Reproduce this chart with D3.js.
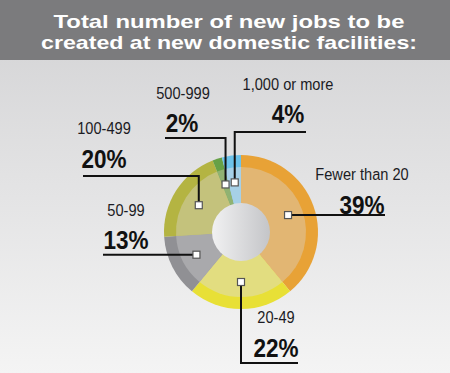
<!DOCTYPE html>
<html>
<head>
<meta charset="utf-8">
<script src="https://cdn.jsdelivr.net/npm/d3@7"></script>
<style>
  body { margin: 0; }
  svg { display: block; }
</style>
</head>
<body>
<div id="chart"></div>
<script>
const categories = ['Fewer than 20', '20-49', '50-99', '100-499', '500-999', '1,000 or more']
const shares = [39, 22, 13, 20, 2, 4]
const titleLines = ['Total number of new jobs to be', 'created at new domestic facilities:']

// outer band colour, inner (lighter) colour
const outerColors = ['#e8a236', '#e8e036', '#909094', '#b4b442', '#67a146', '#6cc2ea']
const innerColors = ['#e2b673', '#e2dd80', '#a9a9ac', '#c4c27c', '#90b272', '#a6d0e7']

// where each leader line ends and where its two texts sit
// bend: 'h' = straight horizontal, 'v' = vertical then horizontal
const labelLayout = [
  { bend: 'h', endX: 385, nameX: 362, nameY: 180, pctX: 362, pctY: 214 },
  { bend: 'v', elbowY: 363, endX: 298, nameX: 276, nameY: 323, pctX: 276, pctY: 357 },
  { bend: 'h', endX: 103, nameX: 126, nameY: 216, pctX: 126, pctY: 249 },
  { bend: 'v', elbowY: 176, endX: 83, nameX: 104, nameY: 134, pctX: 104, pctY: 168 },
  { bend: 'v', elbowY: 138, endX: 165, nameX: 183, nameY: 99, pctX: 182, pctY: 132 },
  { bend: 'v', elbowY: 132, endX: 306, nameX: 288, nameY: 90, pctX: 288, pctY: 123 }
]
const titleWidths = [351, 376]

const width = 450
const height = 373
const cx = 241
const cy = 232

const svg = d3
  .select('#chart')
  .append('svg')
  .attr('width', width)
  .attr('height', height)

const defs = svg.append('defs')

const bg = defs.append('linearGradient')
  .attr('id', 'bg')
  .attr('x1', 0).attr('y1', 0).attr('x2', 0).attr('y2', 1)
bg.append('stop').attr('offset', '0%').attr('stop-color', '#d2d2d4')
bg.append('stop').attr('offset', '100%').attr('stop-color', '#f4f4f4')

const hole = defs.append('linearGradient')
  .attr('id', 'hole')
  .attr('x1', 0).attr('y1', 0).attr('x2', 1).attr('y2', 0)
hole.append('stop').attr('offset', '0%').attr('stop-color', '#f1f1f2')
hole.append('stop').attr('offset', '100%').attr('stop-color', '#c4c5c8')

svg.append('rect')
  .attr('width', width)
  .attr('height', height)
  .attr('fill', 'url(#bg)')

// header band
svg.append('rect')
  .attr('width', width)
  .attr('height', 60)
  .attr('fill', '#7b7b7d')

svg.selectAll('.title')
  .data(titleLines)
  .enter()
  .append('text')
  .attr('class', 'title')
  .attr('x', 229)
  .attr('y', (d, i) => 28 + i * 21)
  .attr('text-anchor', 'middle')
  .attr('textLength', (d, i) => titleWidths[i])
  .attr('lengthAdjust', 'spacingAndGlyphs')
  .attr('fill', '#ffffff')
  .style('font-family', '"Liberation Sans", Arial, sans-serif')
  .style('font-weight', 'bold')
  .style('font-size', '18.5px')
  .text(d => d)

const data = categories.map((c, i) => ({ name: c, value: shares[i], i: i }))

const pie = d3.pie().sort(null).value(d => d.value)
const arcs = pie(data)

const outerArc = d3.arc().innerRadius(0).outerRadius(77)
const innerArc = d3.arc().innerRadius(0).outerRadius(65)
const markerArc = d3.arc().innerRadius(29).outerRadius(71)

const g = svg.append('g')
  .attr('transform', 'translate(' + cx + ',' + cy + ')')

g.selectAll('.outer')
  .data(arcs)
  .enter()
  .append('path')
  .attr('class', 'outer')
  .attr('d', d => outerArc(d))
  .attr('fill', d => outerColors[d.data.i])

g.selectAll('.inner')
  .data(arcs)
  .enter()
  .append('path')
  .attr('class', 'inner')
  .attr('d', d => innerArc(d))
  .attr('fill', d => innerColors[d.data.i])

g.append('circle')
  .attr('r', 29)
  .attr('fill', 'url(#hole)')

// leader lines, markers and labels
arcs.forEach(function(d) {
  const lay = labelLayout[d.data.i]
  const c = markerArc.centroid(d)
  const mx = cx + c[0]
  const my = cy + c[1]
  let pts
  if (lay.bend === 'h') {
    pts = [[mx, my], [lay.endX, my]]
  } else {
    pts = [[mx, my], [mx, lay.elbowY], [lay.endX, lay.elbowY]]
  }
  svg.append('path')
    .attr('d', d3.line()(pts))
    .attr('fill', 'none')
    .attr('stroke', '#111111')
    .attr('stroke-width', 2)

  svg.append('rect')
    .attr('x', mx - 3.5)
    .attr('y', my - 3.5)
    .attr('width', 7)
    .attr('height', 7)
    .attr('fill', '#ffffff')
    .attr('stroke', '#555555')
    .attr('stroke-width', 1.2)

  // condensed look: squeeze the glyphs horizontally
  svg.append('text')
    .attr('transform', 'translate(' + lay.nameX + ',' + lay.nameY + ') scale(0.86,1)')
    .attr('text-anchor', 'middle')
    .attr('fill', '#1c1c24')
    .style('font-family', '"Liberation Sans", Arial, sans-serif')
    .style('font-size', '17px')
    .text(d.data.name)

  svg.append('text')
    .attr('transform', 'translate(' + lay.pctX + ',' + lay.pctY + ') scale(0.85,1)')
    .attr('text-anchor', 'middle')
    .attr('fill', '#111111')
    .style('font-family', '"Liberation Sans", Arial, sans-serif')
    .style('font-weight', 'bold')
    .style('font-size', '26.5px')
    .text(d.data.value + '%')
})
</script>
</body>
</html>
